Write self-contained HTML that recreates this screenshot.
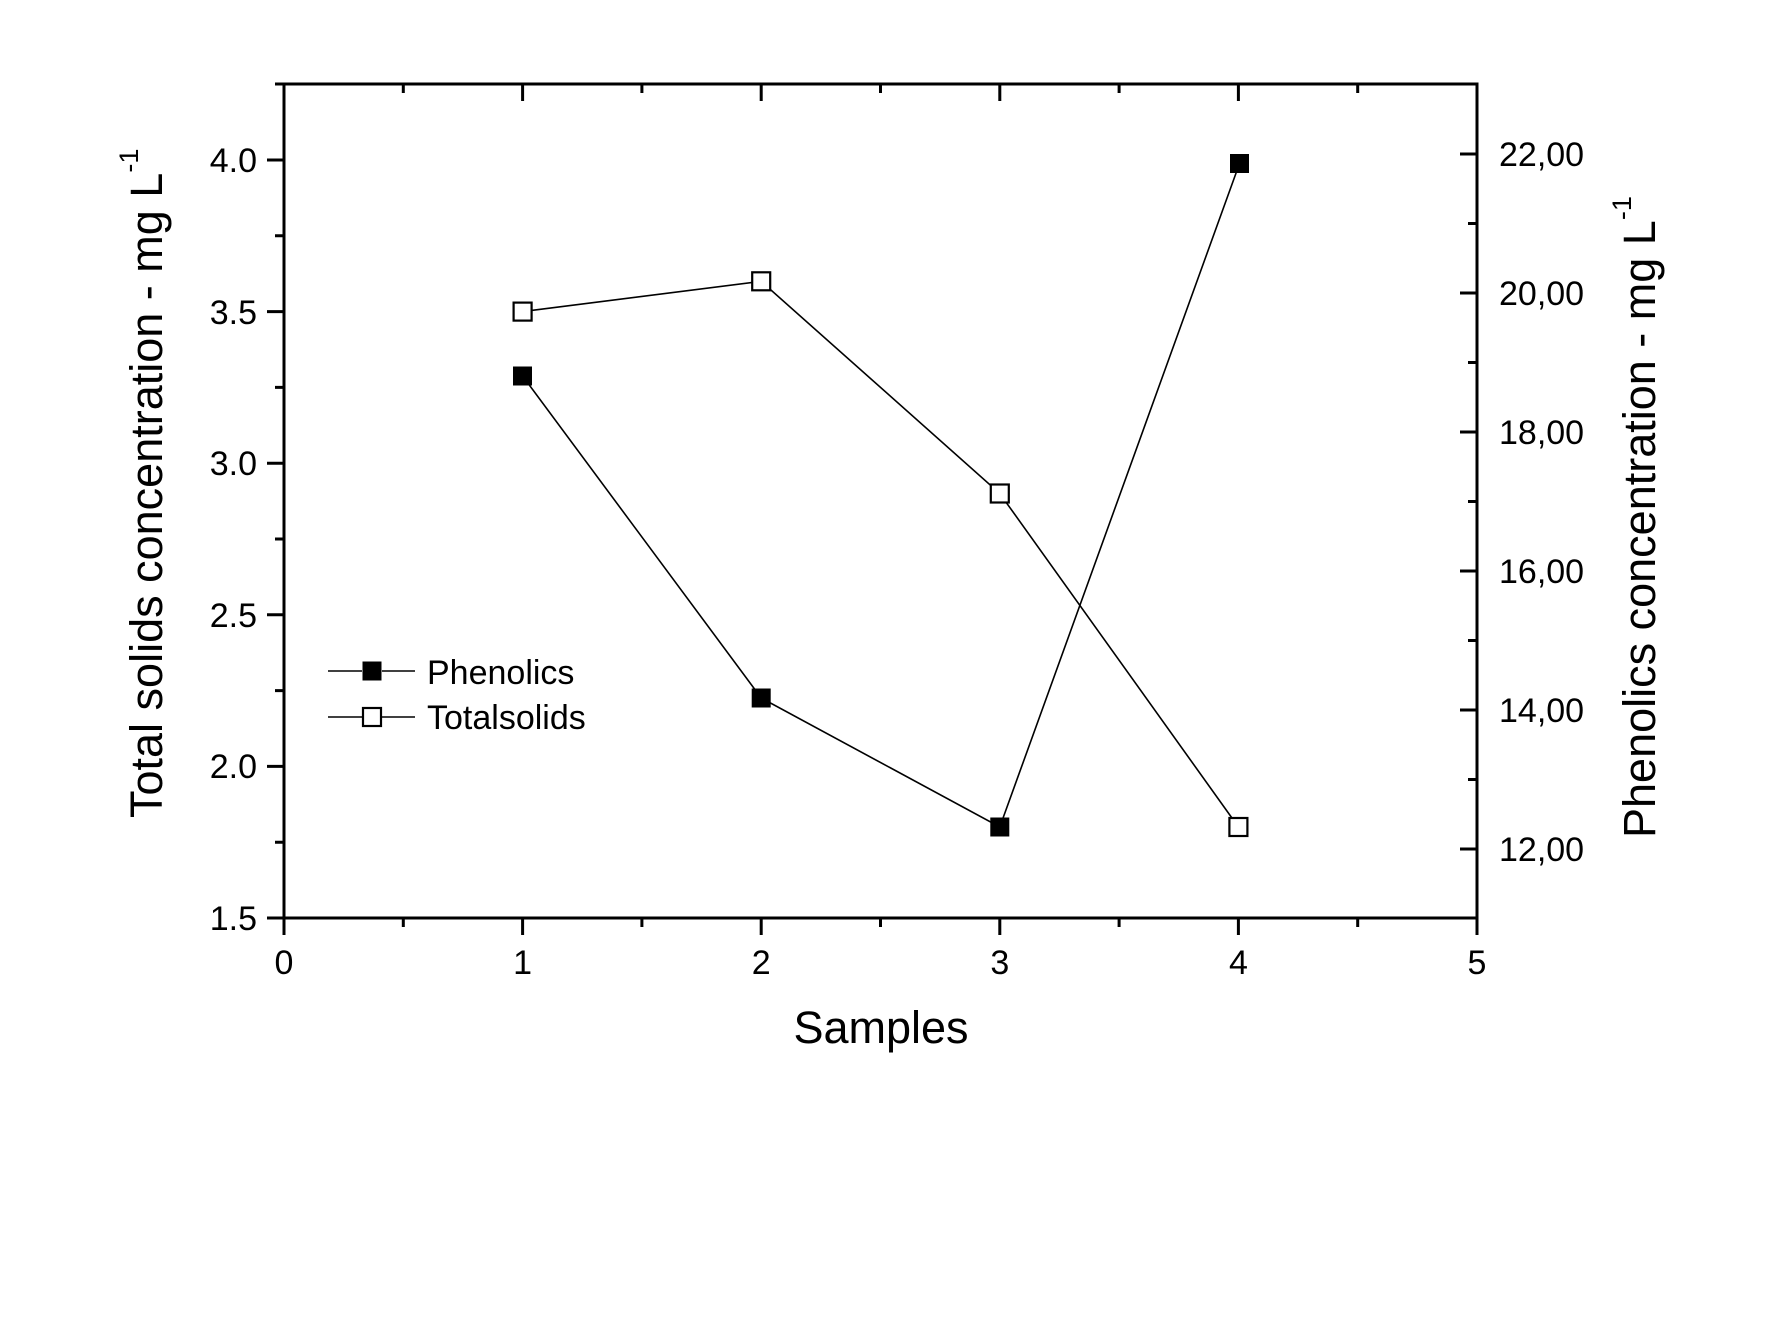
<!DOCTYPE html>
<html><head><style>html,body{margin:0;padding:0;background:#fff}svg{display:block}</style></head>
<body>
<svg width="1771" height="1317" viewBox="0 0 1771 1317" xmlns="http://www.w3.org/2000/svg" font-family="Liberation Sans, Arial, sans-serif">
<rect width="1771" height="1317" fill="#fff"/>
<g stroke="#000" stroke-width="3" fill="none">
<rect x="284" y="84" width="1193" height="834"/>
<path d="M284 918v17M522.6 918v17M761.2 918v17M999.8 918v17M1238.4 918v17M1477 918v17"/>
<path d="M403.3 918v9M641.9 918v9M880.5 918v9M1119.1 918v9M1357.7 918v9"/>
<path d="M522.6 84v17M761.2 84v17M999.8 84v17M1238.4 84v17"/>
<path d="M403.3 84v9M641.9 84v9M880.5 84v9M1119.1 84v9M1357.7 84v9"/>
<path d="M284 160h-17M284 311.6h-17M284 463.2h-17M284 614.8h-17M284 766.4h-17M284 918h-17"/>
<path d="M284 84h-9M284 235.8h-9M284 387.4h-9M284 539h-9M284 690.6h-9M284 842.2h-9"/>
<path d="M1477 154h-17M1477 293h-17M1477 432h-17M1477 571h-17M1477 710h-17M1477 849h-17"/>
<path d="M1477 223.5h-9M1477 362.5h-9M1477 501.5h-9M1477 640.5h-9M1477 779.5h-9"/>
</g>
<g font-size="34" fill="#000">
<g text-anchor="end">
<text x="257" y="172">4.0</text><text x="257" y="324">3.5</text><text x="257" y="475">3.0</text>
<text x="257" y="627">2.5</text><text x="257" y="778">2.0</text><text x="257" y="930">1.5</text>
</g>
<g text-anchor="middle">
<text x="284" y="974">0</text><text x="522.6" y="974">1</text><text x="761.2" y="974">2</text>
<text x="999.8" y="974">3</text><text x="1238.4" y="974">4</text><text x="1477" y="974">5</text>
</g>
<text x="1499" y="166">22,00</text><text x="1499" y="305">20,00</text><text x="1499" y="444">18,00</text>
<text x="1499" y="583">16,00</text><text x="1499" y="722">14,00</text><text x="1499" y="861">12,00</text>
</g>
<text x="881" y="1043" font-size="45" text-anchor="middle">Samples</text>
<text transform="translate(162,818) rotate(-90)" font-size="45">Total solids concentration - mg L<tspan font-size="27" dy="-24">-1</tspan></text>
<text transform="translate(1655,838) rotate(-90)" font-size="45">Phenolics concentration - mg L<tspan font-size="27" dy="-24">-1</tspan></text>
<g stroke="#000" stroke-width="1.6" fill="none">
<polyline points="522.6,311.6 761.2,281.3 999.8,493.5 1238.4,827"/>
<polyline points="522.6,376 761.2,698 999.8,827 1239.5,163.5"/>
<path d="M328 671h34M382 671h33M328 717h34M382 717h33"/>
</g>
<g stroke="#000" stroke-width="2.2" fill="#fff">
<rect x="513.6" y="302.6" width="18" height="18"/>
<rect x="752.2" y="272.3" width="18" height="18"/>
<rect x="990.8" y="484.5" width="18" height="18"/>
<rect x="1229.4" y="818" width="18" height="18"/>
<rect x="363" y="708" width="18" height="18"/>
</g>
<g fill="#000">
<rect x="513" y="366.5" width="19" height="19"/>
<rect x="751.7" y="688.5" width="19" height="19"/>
<rect x="990.3" y="817.5" width="19" height="19"/>
<rect x="1230" y="154" width="19" height="19"/>
<rect x="362.5" y="661.5" width="19" height="19"/>
</g>
<g font-size="34" fill="#000">
<text x="427" y="684">Phenolics</text>
<text x="427" y="729">Totalsolids</text>
</g>
</svg>
</body></html>
